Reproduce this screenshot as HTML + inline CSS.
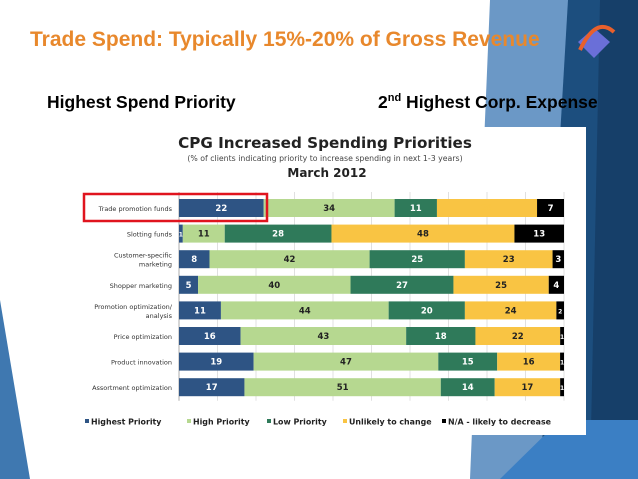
<!DOCTYPE html>
<html><head><meta charset="utf-8"><style>
body{margin:0;width:638px;height:479px;overflow:hidden;background:#fff;font-family:"Liberation Sans",sans-serif;position:relative}
.abs{position:absolute}
</style></head><body>
<svg class="abs" style="left:0;top:0" width="638" height="479">
<polygon points="490,0 570,0 560,479 470,479" fill="#6b98c6"/>
<polygon points="568,0 638,0 638,479 540,479" fill="#1c4e7e"/>
<polygon points="600,0 638,0 638,479 590,479" fill="#163f69"/>
<polygon points="0,300 30,479 0,479" fill="#3f78b0"/>
<polygon points="500,479 560,420 638,420 638,479" fill="#3b7fc4"/>
</svg>
<div class="abs" style="left:30px;top:28px;font-size:21px;font-weight:bold;color:#e8882c;white-space:nowrap">Trade Spend: Typically 15%-20% of Gross Revenue</div>
<svg class="abs" style="left:574px;top:20px" width="44" height="44"><polygon points="4,22 20,8 36,22 20,38" fill="#6a6fd8"/><path d="M6,30 Q22,-4 40,12" stroke="#e8602c" stroke-width="4" fill="none"/></svg>
<div class="abs" style="left:47px;top:92px;font-size:17.5px;font-weight:bold;white-space:nowrap">Highest Spend Priority</div>
<div class="abs" style="left:378px;top:92px;font-size:17.5px;font-weight:bold;white-space:nowrap">2<sup style="font-size:11px">nd</sup> Highest Corp. Expense</div>
<div class="abs" style="left:62px;top:127px;width:524px;height:308px;background:#fff"></div>
<svg class="abs" id="chart" style="left:0;top:0" width="638" height="479">
<text x="325" y="148" text-anchor="middle" font-size="15.2" font-weight="bold" fill="#222" font-family="DejaVu Sans,sans-serif">CPG Increased Spending Priorities</text>
<text x="325" y="161" text-anchor="middle" font-size="7.8" fill="#444" font-family="DejaVu Sans,sans-serif">(% of clients indicating priority to increase spending in next 1-3 years)</text>
<text x="327" y="177" text-anchor="middle" font-size="12" font-weight="bold" fill="#222" font-family="DejaVu Sans,sans-serif">March 2012</text>
</svg>
<script>
const categories=["Trade promotion funds","Slotting funds","Customer-specific|marketing","Shopper marketing","Promotion optimization/|analysis","Price optimization","Product innovation","Assortment optimization"];
const highest=[22,1,8,5,11,16,19,17];
const high=[34,11,42,40,44,43,47,51];
const low=[11,28,25,27,20,18,15,14];
const unlikely=[26,48,23,25,24,22,16,17];
const na=[7,13,3,4,2,1,1,1];
const seriesNames=["Highest Priority","High Priority","Low Priority","Unlikely to change","N/A - likely to decrease"];
const colors=["#2e5484","#b6d890","#2f7a5a","#f9c443","#000"];
const textColors=["#fff","#222","#fff","#222","#fff"];
const svg=document.getElementById('chart');
const NS="http://www.w3.org/2000/svg";
const x0=179,x1=564,yTop=196,rowH=25.6,barH=18;
const series=[highest,high,low,unlikely,na];
function xs(v,tot){return (x1-x0)*v/tot;}
function yc(i){return yTop+rowH*i+barH/2+3;}
function mk(tag,attrs){const e=document.createElementNS(NS,tag);for(const k in attrs)e.setAttribute(k,attrs[k]);svg.appendChild(e);return e;}
for(let g=1;g<=10;g++){const gx=x0+(x1-x0)*g/10;const l=mk('line',{x1:gx,x2:gx,y1:yTop-4,y2:yTop+rowH*8,stroke:'#ccc','stroke-width':0.6});

}
const ax=mk('line',{x1:x0,x2:x0,y1:yTop-4,y2:yTop+rowH*8,stroke:'#999','stroke-width':0.8});


categories.forEach((c,i)=>{
  const tot=series.reduce((a,s)=>a+s[i],0);
  let cx=x0;const y=yc(i)-barH/2;
  series.forEach((s,k)=>{
    const w=xs(s[i],tot);
    const r=mk('rect',{x:cx,y:y,width:w,height:barH,fill:colors[k]});
    
    
    const t=mk('text',{x:cx+w/2,y:yc(i)+3,'text-anchor':'middle','font-size':w<8?6:8.5,'font-weight':'bold',fill:(k==3&&i==0)?'#f9c443':textColors[k],'font-family':'DejaVu Sans,sans-serif'});
    t.textContent=s[i];
    
    
    cx+=w;
  });
  const parts=c.split('|');
  parts.forEach((p,j)=>{
    const t=mk('text',{x:172,y:yc(i)+3+(parts.length>1?(j-0.5)*9:0),'text-anchor':'end','font-size':6.5,fill:'#333','font-family':'DejaVu Sans,sans-serif'});
    t.textContent=p;
    
    
  });
});
const box=mk('rect',{x:84,y:194,width:183,height:27,fill:'none',stroke:'#e0141e','stroke-width':2.5});


const legX=[85,187,267,343,442];
seriesNames.forEach((n,k)=>{
  const s=mk('rect',{x:legX[k],y:419,width:4,height:4,fill:colors[k]});
  
  
  const t=mk('text',{x:legX[k]+6,y:424.5,'font-size':7.9,'font-weight':'bold',fill:'#222','font-family':'DejaVu Sans,sans-serif'});
  t.textContent=n;
  
  
});
</script>
</body></html>
